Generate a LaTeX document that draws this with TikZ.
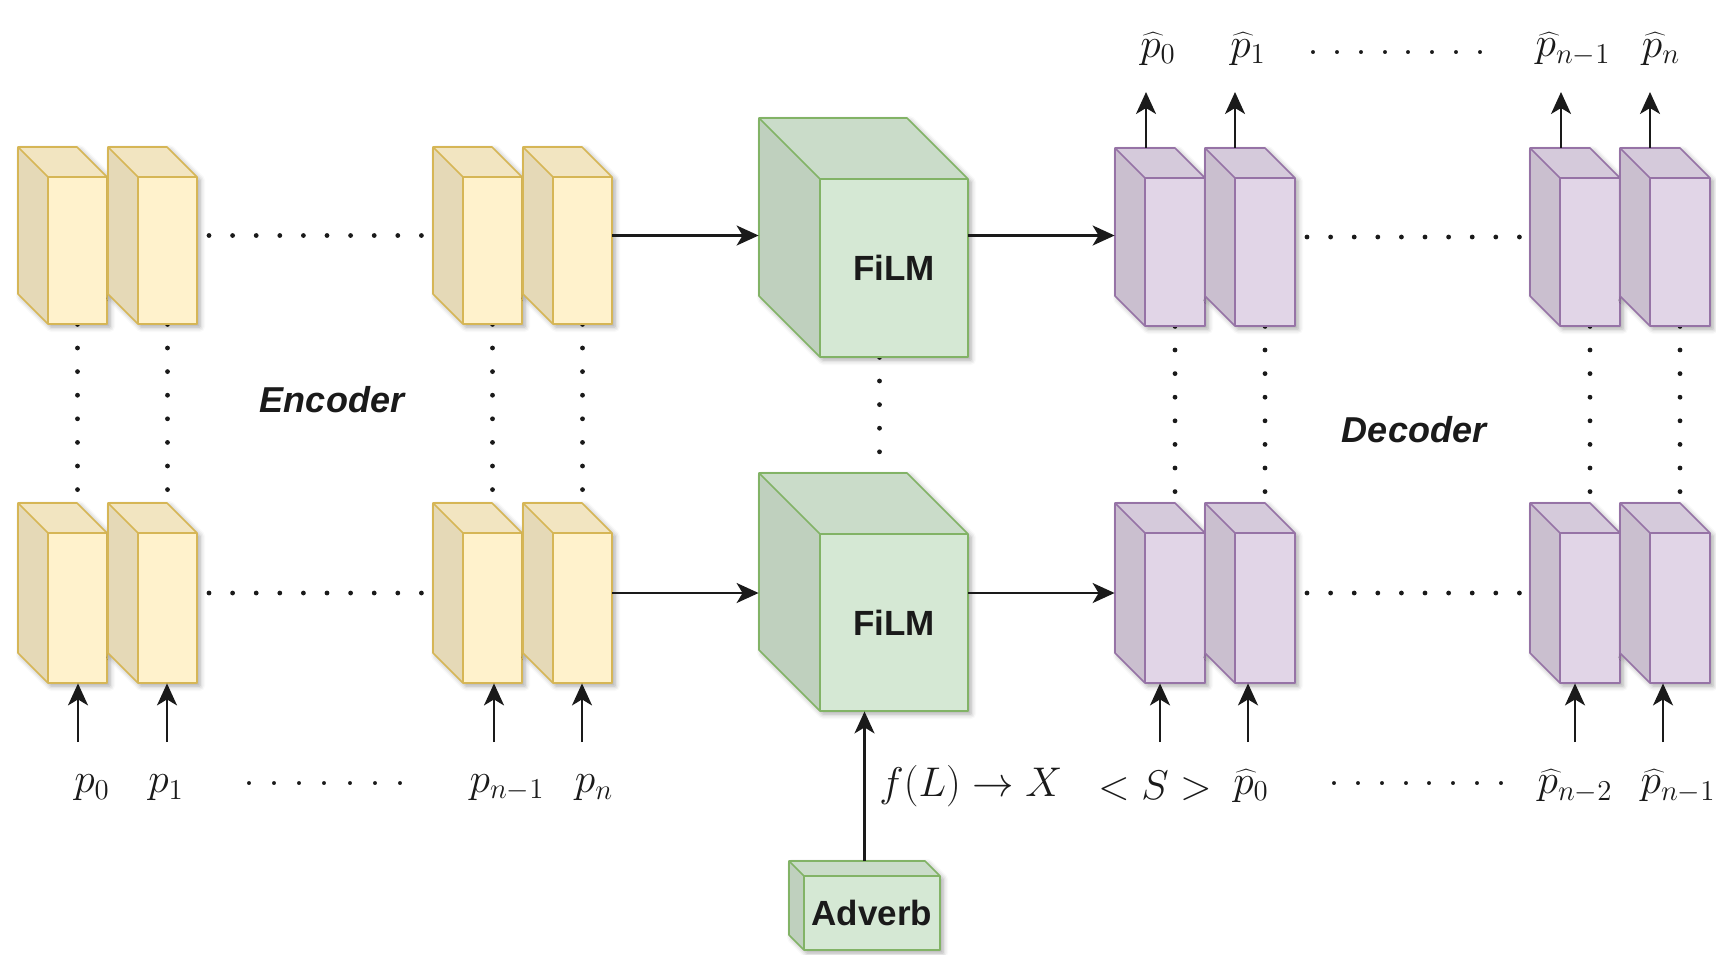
\documentclass[tikz,border=0pt]{standalone}
\usepackage[no-math]{fontspec}
\newfontfamily\arialfont{Liberation Sans}
\usetikzlibrary{arrows.meta,fit,shadows.blur,backgrounds}

\definecolor{encF}{HTML}{FFF2CC}
\definecolor{encD}{HTML}{D6B656}
\definecolor{decF}{HTML}{E1D5E7}
\definecolor{decD}{HTML}{9673A6}
\definecolor{filF}{HTML}{D5E8D4}
\definecolor{filD}{HTML}{82B366}
\definecolor{ink}{HTML}{1A1A1A}

% drawio-style cube: name, left x, top y, width, height, depth, fill, stroke
\newcommand\drawcube[8]{%
  \fill[#7, blur shadow={shadow xshift=1.5pt,shadow yshift=-1.5pt,shadow blur radius=2.5pt,shadow opacity=35}]
    (#2,#3) -- ++({#4-#6},0) -- ++(#6,#6) -- ++(0,{#5-#6}) -- ++({#6-#4},0) -- ++({-#6},{-#6}) -- cycle;
  \fill[black, opacity=0.1] (#2,#3) -- ++(#6,#6) -- ++(0,{#5-#6}) -- ++({-#6},{-#6}) -- cycle;
  \fill[black, opacity=0.05] (#2,#3) -- ++({#4-#6},0) -- ++(#6,#6) -- ++({#6-#4},0) -- cycle;
  \draw[#8, line width=0.8pt, line join=round]
    (#2,#3) -- ++({#4-#6},0) -- ++(#6,#6) -- ++(0,{#5-#6}) -- ++({#6-#4},0) -- ++({-#6},{-#6}) -- cycle
    (#2,#3) -- ++(#6,#6) -- ++({#4-#6},0) ++({#6-#4},0) -- ++(0,{#5-#6});
  \coordinate (#1-nw) at (#2,#3);
  \coordinate (#1-se) at ({#2+#4},{#3+#5});
  \coordinate (#1-c) at ({#2+#6+(#4-#6)/2},{#3+#6+(#5-#6)/2});
  \node[inner sep=0pt, fit=(#1-nw)(#1-se)] (#1) {};
}

\tikzset{
  arr/.style={ink, line width=1.1pt, -{Stealth[length=11pt,width=10pt,inset=3pt]}},
  dotline/.style={ink, line width=2.4pt, line cap=round, dash pattern=on 0pt off 11.8pt},
  math/.style={ink, inner sep=0pt, font=\fontsize{21}{25}\selectfont},
  boxtext/.style={ink, inner sep=0pt, font=\arialfont\bfseries\fontsize{17.5}{21}\selectfont},
  parttext/.style={ink, inner sep=0pt, font=\arialfont\bfseries\itshape\fontsize{18}{22}\selectfont},
}
% a row of evenly spaced dots set as text
\newcommand\dotrow[2]{\makebox[#1]{\fontsize{24}{28}\selectfont\xleaders\hbox to #2{\hss.\hss}\hfill}}

\begin{document}
\begin{tikzpicture}[x=0.5pt,y=-0.5pt]
\useasboundingbox (0,0) rectangle (1716,954);

% encoder, upper and lower rows
\drawcube{e1}{18}{147}{89}{177}{30}{encF}{encD}
\drawcube{e2}{108}{147}{89}{177}{30}{encF}{encD}
\drawcube{e3}{433}{147}{89}{177}{30}{encF}{encD}
\drawcube{e4}{523}{147}{89}{177}{30}{encF}{encD}
\drawcube{e5}{18}{503}{89}{180}{30}{encF}{encD}
\drawcube{e6}{108}{503}{89}{180}{30}{encF}{encD}
\drawcube{e7}{433}{503}{89}{180}{30}{encF}{encD}
\drawcube{e8}{523}{503}{89}{180}{30}{encF}{encD}

% FiLM blocks and the adverb input
\drawcube{f1}{759}{118}{209}{239}{61}{filF}{filD}
\drawcube{f2}{759}{473}{209}{238}{61}{filF}{filD}
\drawcube{adv}{789}{861}{151}{89}{15}{filF}{filD}

% decoder, upper and lower rows
\drawcube{d1}{1115}{148}{90}{178}{30}{decF}{decD}
\drawcube{d2}{1205}{148}{90}{178}{30}{decF}{decD}
\drawcube{d3}{1530}{148}{90}{178}{30}{decF}{decD}
\drawcube{d4}{1620}{148}{90}{178}{30}{decF}{decD}
\drawcube{d5}{1115}{503}{90}{180}{30}{decF}{decD}
\drawcube{d6}{1205}{503}{90}{180}{30}{decF}{decD}
\drawcube{d7}{1530}{503}{90}{180}{30}{decF}{decD}
\drawcube{d8}{1620}{503}{90}{180}{30}{decF}{decD}

\node[boxtext] (film1) at (f1-c) {FiLM};
\node[boxtext] (film2) at (f2-c) {FiLM};
\node[boxtext] (advt) at (adv-c) {Adverb};

\node[parttext] (enc) at (332,400) {Encoder};
\node[parttext] (dec) at (1414,430) {Decoder};

% dotted links between layers and along each row
\begin{pgfonlayer}{background}
\foreach \a/\b in {e1/e5,e2/e6,e3/e7,e4/e8,d1/d5,d2/d6,d3/d7,d4/d8}
  \draw[dotline] (\a-c |- \a.south) -- (\a-c |- \b.north);
\draw[dotline] ([xshift=8pt]f1.south) -- ([xshift=8pt]f1.south |- f2.north);
\foreach \a/\b in {e2/e3,e6/e7,d2/d3,d6/d7}
  \draw[dotline, dash phase=6pt] (\a.east) -- (\b.west);
\end{pgfonlayer}

% main data flow
\draw[arr] (e4.east) -- (e4.east -| f1.west);
\draw[arr] (f1.east |- e4.east) -- (d1.west |- e4.east);
\draw[arr] (e8.east) -- (e8.east -| f2.west);
\draw[arr] (f2.east |- e8.east) -- (d5.west |- e8.east);
\draw[arr] (adv.north) -- (adv.north |- f2.south);

% encoder inputs
\coordinate (ein0) at (78,742);
\coordinate (ein1) at (167,742);
\coordinate (ein2) at (494,742);
\coordinate (ein3) at (582,742);
\draw[arr] (ein0) -- (ein0 |- e5.south);
\draw[arr] (ein1) -- (ein1 |- e6.south);
\draw[arr] (ein2) -- (ein2 |- e7.south);
\draw[arr] (ein3) -- (ein3 |- e8.south);
\node[math] (p0) at (92,788) {$p_0$};
\node[math] (p1) at (166,788) {$p_1$};
\node[math] (pdots) at (325,784) {\dotrow{88pt}{12.5pt}};
\node[math] (pn1) at (507,788) {$p_{n-1}$};
\node[math] (pn) at (594,788) {$p_n$};

% decoder inputs
\coordinate (din0) at (1160,742);
\coordinate (din1) at (1248,742);
\coordinate (din2) at (1575,742);
\coordinate (din3) at (1663,742);
\draw[arr] (din0) -- (din0 |- d5.south);
\draw[arr] (din1) -- (din1 |- d6.south);
\draw[arr] (din2) -- (din2 |- d7.south);
\draw[arr] (din3) -- (din3 |- d8.south);
\node[math] (sos) at (1155,786) {$<S>$};
\node[math] (q0) at (1251,786) {$\widehat{p}_0$};
\node[math] (qdots) at (1418,784) {\dotrow{96pt}{11.8pt}};
\node[math] (qn2) at (1575,786) {$\widehat{p}_{n-2}$};
\node[math] (qn1) at (1678,786) {$\widehat{p}_{n-1}$};

\node[math, anchor=west] (fl) at (879,786) {$f(L)\rightarrow X$};

% decoder outputs
\coordinate (dout0) at (1146,92);
\coordinate (dout1) at (1235,92);
\coordinate (dout2) at (1561,92);
\coordinate (dout3) at (1650,92);
\draw[arr] (dout0 |- d1.north) -- (dout0);
\draw[arr] (dout1 |- d2.north) -- (dout1);
\draw[arr] (dout2 |- d3.north) -- (dout2);
\draw[arr] (dout3 |- d4.north) -- (dout3);
\node[math] (r0) at (1158,49) {$\widehat{p}_0$};
\node[math] (r1) at (1248,49) {$\widehat{p}_1$};
\node[math] (rdots) at (1397,53) {\dotrow{96pt}{11.8pt}};
\node[math] (rn1) at (1573,49) {$\widehat{p}_{n-1}$};
\node[math] (rn) at (1661,49) {$\widehat{p}_n$};
\end{tikzpicture}
\end{document}
